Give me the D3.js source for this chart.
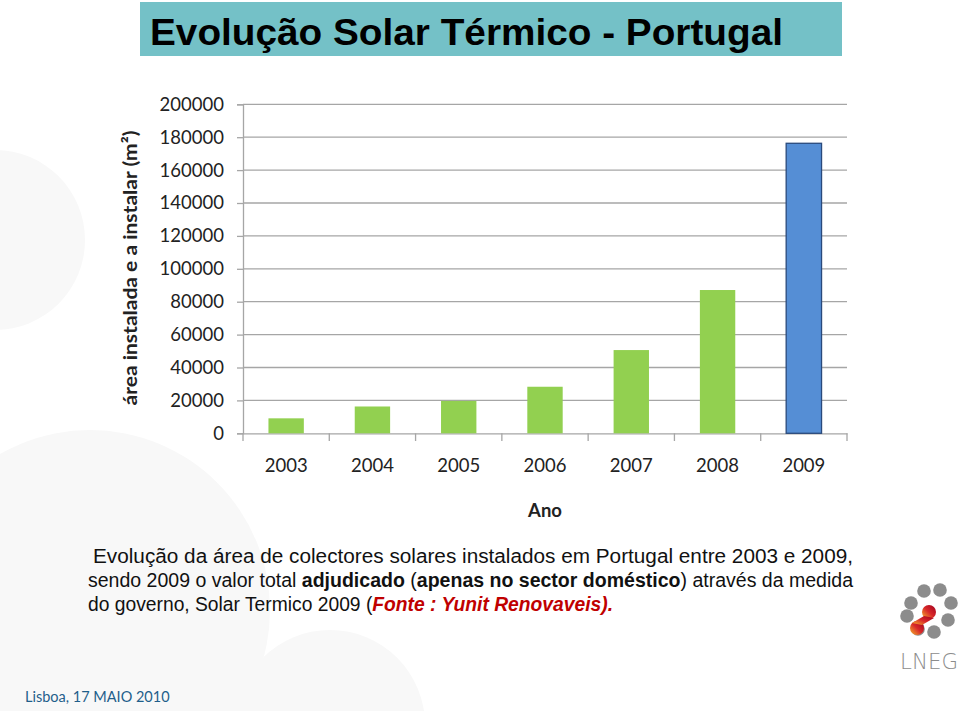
<!DOCTYPE html>
<html><head><meta charset="utf-8">
<script src="https://cdn.jsdelivr.net/npm/d3@7"></script>
<style>body{margin:0;background:#fff}svg{display:block}</style>
</head><body>
<svg id="c" width="960" height="711"></svg>
<script>
const years = ["2003","2004","2005","2006","2007","2008","2009"];
const areaValues = [9100, 16300, 19700, 28300, 50600, 87100, 176300];
const yTicks = [0,20000,40000,60000,80000,100000,120000,140000,160000,180000,200000];
const titleText = "Evolução Solar Térmico - Portugal";
const yTitle = "área instalada e a instalar (m²)";
const xTitle = "Ano";
const footer = "Lisboa, 17 MAIO 2010";

const svg = d3.select("#c");
const labelFont = "Lato, 'Open Sans', sans-serif";

// faint background shapes
const bg = svg.append("g").attr("fill","#f8f8f8");
bg.append("circle").attr("cx",-5).attr("cy",240).attr("r",90);
bg.append("circle").attr("cx",90).attr("cy",610).attr("r",180);
bg.append("circle").attr("cx",330).attr("cy",725).attr("r",95);

// title band
svg.append("rect").attr("x",140).attr("y",2).attr("width",702).attr("height",54).attr("fill","#74c1c7");
svg.append("text").attr("x",150).attr("y",45).attr("font-family","'Liberation Sans Narrow', 'Liberation Sans', Arial, sans-serif")
  .attr("font-weight","bold").attr("font-size",36).attr("fill","#000")
  .attr("textLength",633).attr("lengthAdjust","spacingAndGlyphs").text(titleText);

// scales
const x = d3.scaleBand().domain(years).range([243,847]).padding(0);
const y = d3.scaleLinear().domain([0,200000]).range([433.3,104.3]);

// gridlines
svg.append("g").selectAll("line").data(yTicks.filter(d=>d>0)).join("line")
  .attr("x1",243).attr("x2",847).attr("y1",d=>y(d)).attr("y2",d=>y(d))
  .attr("stroke","#a6a6a6").attr("stroke-width",1.3);

// y axis
const yAxis = svg.append("g").attr("transform","translate(243,0)")
  .call(d3.axisLeft(y).tickValues(yTicks).tickSize(6).tickPadding(13).tickFormat(d3.format("d")));
yAxis.select(".domain").attr("stroke","#a6a6a6").attr("stroke-width",1.3);
yAxis.selectAll(".tick line").attr("stroke","#a6a6a6").attr("stroke-width",1.3);
yAxis.selectAll(".tick text").attr("font-family",labelFont).attr("font-size",18.5).attr("fill","#222");

// x axis
const xAxis = svg.append("g").attr("transform","translate(0,433.3)")
  .call(d3.axisBottom(x).tickSize(0).tickPadding(26));
xAxis.select(".domain").attr("stroke","#a6a6a6").attr("stroke-width",1.3);
xAxis.selectAll(".tick text").attr("font-family",labelFont).attr("font-size",18.5).attr("fill","#222");
const bounds = years.map(d=>x(d)).concat([x.range()[1]]);
svg.append("g").selectAll("line").data(bounds).join("line")
  .attr("x1",d=>d).attr("x2",d=>d).attr("y1",433.3).attr("y2",441)
  .attr("stroke","#a6a6a6").attr("stroke-width",1.3);

// bars
const bw = x.bandwidth()*0.41;
svg.append("g").selectAll("rect").data(years).join("rect")
  .attr("x",(d)=>x(d)+x.bandwidth()/2-bw/2)
  .attr("y",(d,i)=>y(areaValues[i]))
  .attr("width",bw)
  .attr("height",(d,i)=>y(0)-y(areaValues[i]))
  .attr("fill",(d,i)=>i===years.length-1?"#558ed5":"#92d050")
  .attr("stroke",(d,i)=>i===years.length-1?"#2a4a7c":"none")
  .attr("stroke-width",1.3);

// axis titles
svg.append("text").attr("x",545).attr("y",517).attr("text-anchor","middle")
  .attr("font-family",labelFont).attr("font-weight","bold").attr("font-size",18.5).attr("fill","#222").text(xTitle);
svg.append("text").attr("transform","translate(137,268) rotate(-90)").attr("text-anchor","middle")
  .attr("font-family",labelFont).attr("font-weight","bold").attr("font-size",18.5).attr("fill","#222")
  .attr("textLength",275).attr("lengthAdjust","spacingAndGlyphs").text(yTitle);

// caption
const capFont = "'Liberation Sans Narrow', 'Liberation Sans', Arial, sans-serif";
const cap = svg.append("g").attr("font-family",capFont).attr("font-size",19.5).attr("fill","#111");
cap.append("text").attr("x",93).attr("y",563).attr("textLength",760).attr("lengthAdjust","spacingAndGlyphs")
  .text("Evolução da área de colectores solares instalados em Portugal entre 2003 e 2009,");
const l2 = cap.append("text").attr("x",88).attr("y",587).attr("textLength",765).attr("lengthAdjust","spacingAndGlyphs");
l2.append("tspan").text("sendo 2009 o valor total ");
l2.append("tspan").attr("font-weight","bold").text("adjudicado");
l2.append("tspan").text(" (");
l2.append("tspan").attr("font-weight","bold").text("apenas no sector doméstico");
l2.append("tspan").text(") através da medida");
const l3 = cap.append("text").attr("x",88).attr("y",611).attr("textLength",525).attr("lengthAdjust","spacingAndGlyphs");
l3.append("tspan").text("do governo, Solar Termico 2009 (");
l3.append("tspan").attr("font-weight","bold").attr("font-style","italic").attr("fill","#c00000").text("Fonte : Yunit Renovaveis).");

// footer
svg.append("text").attr("x",25).attr("y",702).attr("font-family",labelFont).attr("font-size",14.5)
  .attr("fill","#1f5f8b").text(footer);

// LNEG logo
const logo = svg.append("g");
const lc = [[911,603],[924,591],[940,590],[951,603],[948,620],[934,632],[918,629],[907,616]];
logo.selectAll("circle").data(lc).join("circle").attr("cx",d=>d[0]).attr("cy",d=>d[1]).attr("r",6.8).attr("fill","#8c8c8c");
const grad = svg.append("defs").append("linearGradient").attr("id","lg").attr("x1","1").attr("y1","0").attr("x2","0").attr("y2","1");
grad.append("stop").attr("offset","0").attr("stop-color","#a0001e");
grad.append("stop").attr("offset","0.5").attr("stop-color","#d8282a");
grad.append("stop").attr("offset","1").attr("stop-color","#f7b72a");
logo.append("circle").attr("cx",929).attr("cy",612).attr("r",7).attr("fill","url(#lg)");
logo.append("circle").attr("cx",917).attr("cy",628).attr("r",7).attr("fill","url(#lg)");
logo.append("path").attr("d","M924,616 L934,618 L922,625 L912,623 Z").attr("fill","url(#lg)");
logo.append("text").attr("x",900).attr("y",669).attr("font-family","'DejaVu Sans', sans-serif").attr("font-weight","200")
  .attr("font-size",22).attr("fill","#8c8c8c").attr("textLength",58).attr("lengthAdjust","spacingAndGlyphs").text("LNEG");
</script>
</body></html>
